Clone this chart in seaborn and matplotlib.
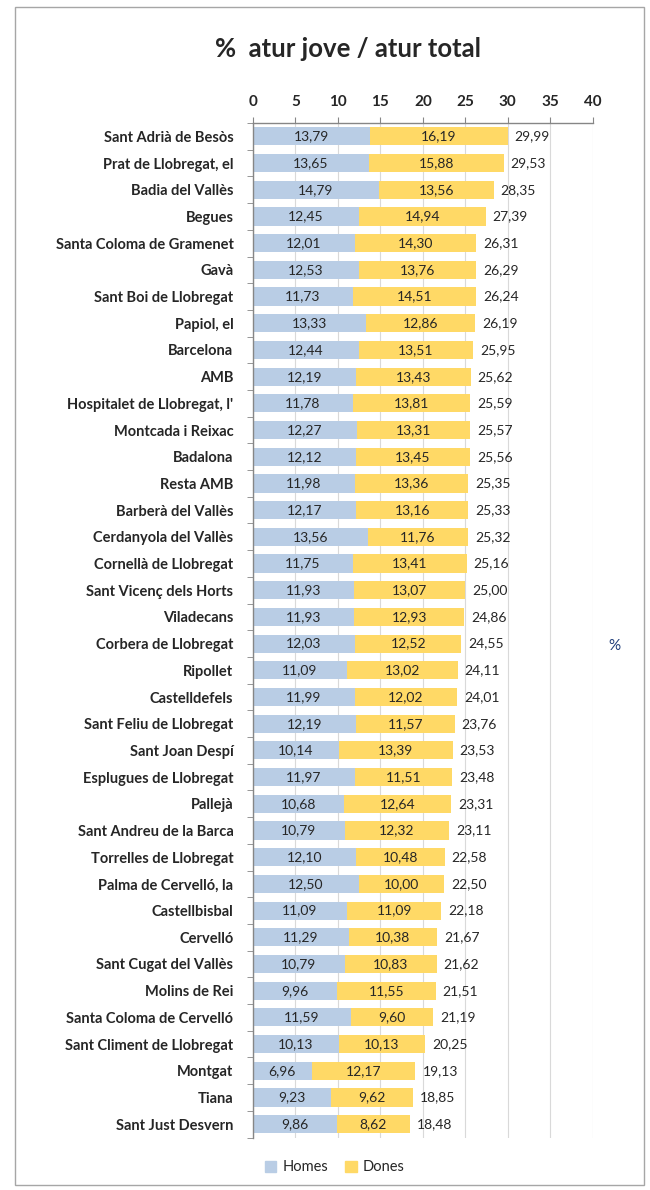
import numpy as np
import pandas as pd
import matplotlib.pyplot as plt
import seaborn as sns
from matplotlib.patches import Rectangle, Patch

municipis = ["Sant Adrià de Besòs", "Prat de Llobregat, el", "Badia del Vallès", "Begues",
             "Santa Coloma de Gramenet", "Gavà", "Sant Boi de Llobregat", "Papiol, el",
             "Barcelona", "AMB", "Hospitalet de Llobregat, l'", "Montcada i Reixac",
             "Badalona", "Resta AMB", "Barberà del Vallès", "Cerdanyola del Vallès",
             "Cornellà de Llobregat", "Sant Vicenç dels Horts", "Viladecans",
             "Corbera de Llobregat", "Ripollet", "Castelldefels", "Sant Feliu de Llobregat",
             "Sant Joan Despí", "Esplugues de Llobregat", "Pallejà", "Sant Andreu de la Barca",
             "Torrelles de Llobregat", "Palma de Cervelló, la", "Castellbisbal", "Cervelló",
             "Sant Cugat del Vallès", "Molins de Rei", "Santa Coloma de Cervelló",
             "Sant Climent de Llobregat", "Montgat", "Tiana", "Sant Just Desvern"]
homes = [13.79, 13.65, 14.79, 12.45, 12.01, 12.53, 11.73, 13.33, 12.44, 12.19, 11.78, 12.27,
         12.12, 11.98, 12.17, 13.56, 11.75, 11.93, 11.93, 12.03, 11.09, 11.99, 12.19, 10.14,
         11.97, 10.68, 10.79, 12.10, 12.50, 11.09, 11.29, 10.79, 9.96, 11.59, 10.13, 6.96,
         9.23, 9.86]
dones = [16.19, 15.88, 13.56, 14.94, 14.30, 13.76, 14.51, 12.86, 13.51, 13.43, 13.81, 13.31,
         13.45, 13.36, 13.16, 11.76, 13.41, 13.07, 12.93, 12.52, 13.02, 12.02, 11.57, 13.39,
         11.51, 12.64, 12.32, 10.48, 10.00, 11.09, 10.38, 10.83, 11.55, 9.60, 10.13, 12.17,
         9.62, 8.62]
total = [29.99, 29.53, 28.35, 27.39, 26.31, 26.29, 26.24, 26.19, 25.95, 25.62, 25.59, 25.57,
         25.56, 25.35, 25.33, 25.32, 25.16, 25.00, 24.86, 24.55, 24.11, 24.01, 23.76, 23.53,
         23.48, 23.31, 23.11, 22.58, 22.50, 22.18, 21.67, 21.62, 21.51, 21.19, 20.25, 19.13,
         18.85, 18.48]

df = pd.DataFrame({"municipi": municipis, "homes": homes, "dones": dones, "total": total})
df["stack"] = df["homes"] + df["dones"]

sns.set_style("white")
plt.rcParams['font.family'] = ['Lato', 'DejaVu Sans']

c_homes = "#B9CDE5"
c_dones = "#FFD966"
txt = "#262626"

fig = plt.figure(figsize=(6.5, 11.9), dpi=100)
fig.patches.append(Rectangle((0.023, 0.004), 0.968, 0.99, transform=fig.transFigure,
                             fill=False, edgecolor="#A6A6A6", linewidth=1.0))
ax = fig.add_axes([0.389, 0.0441, 0.523, 0.8525])

# stacked bars: total length in yellow, homes drawn over it
sns.barplot(data=df, x="stack", y="municipi", color=c_dones, width=0.68,
            saturation=1, linewidth=0, ax=ax)
sns.barplot(data=df, x="homes", y="municipi", color=c_homes, width=0.68,
            saturation=1, linewidth=0, ax=ax)

for i, row in df.iterrows():
    ax.text(row["homes"] / 2, i, f"{row['homes']:.2f}".replace(".", ","),
            ha="center", va="center", fontsize=10, color=txt)
    ax.text(row["homes"] + row["dones"] / 2, i, f"{row['dones']:.2f}".replace(".", ","),
            ha="center", va="center", fontsize=10, color=txt)
    ax.annotate(f"{row['total']:.2f}".replace(".", ","), (row["stack"], i),
                xytext=(5, 0), textcoords="offset points",
                ha="left", va="center", fontsize=10, color=txt)

ax.set_xlim(0, 40)
ax.set_xticks(np.arange(0, 41, 5))
ax.xaxis.tick_top()
ax.tick_params(axis="x", which="both", top=True, length=4, color="#868686",
               labelsize=11, pad=6, labelcolor=txt)
for lab in ax.get_xticklabels():
    lab.set_fontweight("bold")
ax.set_xlabel("")
ax.set_ylabel("")
ax.tick_params(axis="y", length=0, labelsize=10.5, pad=14, labelcolor=txt)
for lab in ax.get_yticklabels():
    lab.set_fontweight("bold")
ax.set_yticks(np.arange(-0.5, len(df) + 0.5, 1), minor=True)
ax.tick_params(axis="y", which="minor", left=True, length=4, color="#868686")
ax.grid(axis="x", color="#D9D9D9", linewidth=0.8)
ax.set_axisbelow(True)
for s in ["right", "bottom"]:
    ax.spines[s].set_visible(False)
for s in ["top", "left"]:
    ax.spines[s].set_color("#868686")
    ax.spines[s].set_linewidth(1.0)

fig.text(0.535, 0.959, "%  atur jove / atur total", ha="center", va="center",
         fontsize=18.5, fontweight="bold", color=txt)
fig.text(0.945, 0.457, "%", ha="center", va="center", fontsize=11, color="#1F3D7A")

handles = [Patch(color=c_homes, label="Homes"), Patch(color=c_dones, label="Dones")]
fig.legend(handles=handles, loc="center", bbox_to_anchor=(0.515, 0.019), ncol=2,
           frameon=False, fontsize=10.5, handlelength=0.8, handleheight=0.8,
           handletextpad=0.4, columnspacing=1.2, labelcolor=txt)

fig.savefig("out.png", dpi=100)
